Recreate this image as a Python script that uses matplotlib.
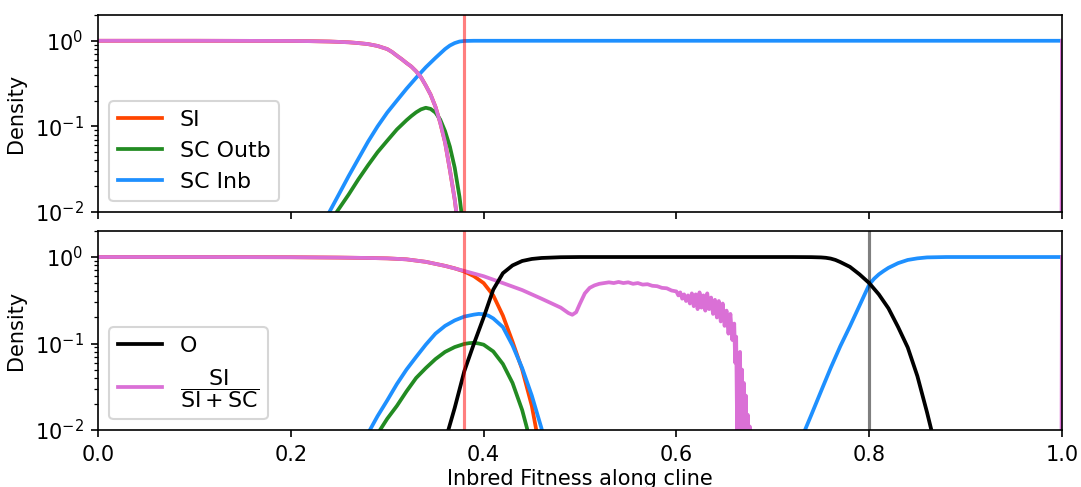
import numpy as np
import matplotlib
matplotlib.use("Agg")
import matplotlib.pyplot as plt

# ---------------- data ----------------
# Top panel
top_ratio_x = [0.0, 0.1, 0.2, 0.22, 0.24, 0.26, 0.27, 0.28, 0.29, 0.30, 0.305, 0.31, 0.315,
               0.32, 0.325, 0.33, 0.335, 0.34, 0.345, 0.35, 0.355, 0.36, 0.365, 0.37,
               0.375, 0.38, 0.999, 1.0]
top_ratio_y = [1.0, 1.0, 0.995, 0.99, 0.98, 0.96, 0.94, 0.915, 0.87, 0.80, 0.74, 0.67, 0.61,
               0.55, 0.50, 0.44, 0.375, 0.30, 0.235, 0.17, 0.11, 0.065, 0.031, 0.014,
               0.005, 1e-5, 1e-5, 1.0]
top_si_x = [0.0, 0.1, 0.2, 0.22, 0.24, 0.26, 0.27, 0.28, 0.29, 0.30, 0.305, 0.31, 0.315,
            0.32, 0.325, 0.33, 0.335, 0.34, 0.345, 0.35, 0.355, 0.36, 0.365, 0.37,
            0.375, 0.38]
top_si_y = [1.0, 1.0, 0.995, 0.99, 0.98, 0.96, 0.94, 0.915, 0.87, 0.80, 0.74, 0.67, 0.61,
            0.55, 0.50, 0.44, 0.375, 0.30, 0.235, 0.17, 0.11, 0.065, 0.031, 0.014,
            0.005, 1e-5]
top_outb_x = [0.24, 0.2476, 0.26, 0.27, 0.28, 0.29, 0.30, 0.31, 0.32, 0.325, 0.33, 0.335,
              0.34, 0.345, 0.35, 0.355, 0.36, 0.365, 0.37, 0.375, 0.378, 0.38]
top_outb_y = [0.006, 0.01, 0.016, 0.024, 0.035, 0.05, 0.068, 0.092, 0.118, 0.132, 0.146,
              0.158, 0.165, 0.16, 0.145, 0.12, 0.088, 0.058, 0.033, 0.015, 0.008, 0.003]
top_inb_x = [0.23, 0.24, 0.25, 0.26, 0.27, 0.28, 0.29, 0.30, 0.31, 0.32, 0.33, 0.34,
             0.35, 0.36, 0.365, 0.37, 0.375, 0.38, 0.39, 1.0]
top_inb_y = [0.006, 0.01, 0.0162, 0.0263, 0.0417, 0.066, 0.10, 0.145, 0.20, 0.275, 0.37,
             0.49, 0.63, 0.80, 0.88, 0.94, 0.98, 0.995, 1.0, 1.0]

# Bottom panel
bot_si_x = [0.0, 0.1, 0.2, 0.25, 0.28, 0.30, 0.32, 0.34, 0.36, 0.37, 0.38, 0.39, 0.40,
            0.41, 0.42, 0.43, 0.44, 0.45, 0.455, 0.46, 0.47]
bot_si_y = [1.0, 1.0, 0.995, 0.985, 0.975, 0.965, 0.94, 0.88, 0.79, 0.74, 0.68, 0.60, 0.50,
            0.36, 0.21, 0.105, 0.05, 0.019, 0.0095, 0.004, 0.001]
bot_outb_x = [0.285, 0.2925, 0.30, 0.31, 0.32, 0.33, 0.34, 0.35, 0.36, 0.37, 0.38, 0.385,
              0.39, 0.395, 0.40, 0.41, 0.42, 0.43, 0.44, 0.445, 0.45]
bot_outb_y = [0.006, 0.01, 0.0135, 0.019, 0.028, 0.04, 0.052, 0.066, 0.08, 0.091, 0.099,
              0.101, 0.102, 0.1, 0.097, 0.081, 0.058, 0.035, 0.017, 0.0105, 0.0055]
bot_inb_x = [0.275, 0.282, 0.29, 0.30, 0.31, 0.32, 0.33, 0.34, 0.35, 0.36, 0.37, 0.38,
             0.39, 0.395, 0.40, 0.405, 0.41, 0.42, 0.43, 0.44, 0.45, 0.46, 0.465, 0.47,
             0.72, 0.725, 0.7334, 0.74, 0.75, 0.76, 0.77, 0.78, 0.79, 0.80, 0.805, 0.81,
             0.815, 0.82, 0.83, 0.84, 0.85, 0.86, 0.88, 1.0]
bot_inb_y = [0.006, 0.01, 0.0145, 0.022, 0.034, 0.05, 0.07, 0.097, 0.13, 0.16, 0.185, 0.205,
             0.216, 0.22, 0.218, 0.21, 0.195, 0.155, 0.095, 0.052, 0.025, 0.0105, 0.006,
             1e-4, 1e-4, 0.005, 0.01, 0.015, 0.028, 0.052, 0.093, 0.158, 0.275, 0.48,
             0.56, 0.63, 0.69, 0.75, 0.85, 0.925, 0.965, 0.99, 1.0, 1.0]
bot_o_x = [0.355, 0.3634, 0.37, 0.38, 0.39, 0.40, 0.41, 0.42, 0.43, 0.44, 0.45, 0.46,
           0.48, 0.50, 0.72, 0.74, 0.75, 0.755, 0.76, 0.765, 0.77, 0.78, 0.79, 0.80,
           0.81, 0.82, 0.83, 0.84, 0.85, 0.86, 0.865, 0.87]
bot_o_y = [0.006, 0.01, 0.018, 0.048, 0.10, 0.20, 0.42, 0.65, 0.80, 0.90, 0.95, 0.975,
           0.995, 1.0, 1.0, 0.997, 0.99, 0.98, 0.96, 0.925, 0.875, 0.77, 0.63, 0.50,
           0.37, 0.255, 0.155, 0.09, 0.042, 0.016, 0.0095, 0.005]
bot_ratio_x = [0.0, 0.1, 0.2, 0.25, 0.28, 0.30, 0.32, 0.34, 0.36, 0.38, 0.40, 0.42, 0.44,
               0.46, 0.48, 0.488, 0.492, 0.496, 0.50, 0.505, 0.51, 0.515, 0.52, 0.525,
               0.53, 0.535, 0.54, 0.545, 0.55, 0.555, 0.56, 0.565, 0.57, 0.575, 0.58,
               0.585, 0.59, 0.595,
               0.600, 0.602, 0.604, 0.606, 0.608, 0.610, 0.612, 0.614, 0.616, 0.618,
               0.620, 0.622, 0.624, 0.626, 0.628, 0.630, 0.632, 0.634, 0.636, 0.638,
               0.640, 0.642, 0.644, 0.646, 0.648, 0.650, 0.652, 0.654, 0.656, 0.658,
               0.660, 0.661, 0.662, 0.663, 0.664, 0.665, 0.666, 0.667, 0.668, 0.669,
               0.670, 0.671, 0.672, 0.673, 0.674, 0.675, 0.676, 0.677,
               0.999, 1.0]
bot_ratio_y = [1.0, 1.0, 0.995, 0.985, 0.975, 0.965, 0.94, 0.88, 0.79, 0.69, 0.60, 0.50, 0.415,
               0.33, 0.26, 0.225, 0.215, 0.23, 0.29, 0.38, 0.44, 0.47, 0.49, 0.50,
               0.51, 0.50, 0.515, 0.50, 0.51, 0.49, 0.50, 0.48, 0.485, 0.465, 0.46,
               0.44, 0.435, 0.41,
               0.40, 0.36, 0.39, 0.33, 0.37, 0.31, 0.36, 0.29, 0.38, 0.27,
               0.37, 0.25, 0.39, 0.26, 0.36, 0.24, 0.38, 0.25, 0.34, 0.22,
               0.32, 0.20, 0.31, 0.18, 0.29, 0.16, 0.24, 0.13, 0.22, 0.11,
               0.17, 0.06, 0.12, 0.01, 0.07, 0.004, 0.08, 0.006, 0.05, 0.003,
               0.035, 0.004, 0.025, 0.002, 0.015, 0.002, 0.011, 0.001,
               1e-5, 1.0]

# ---------------- figure ----------------
plt.rcParams['font.size'] = 10
fig = plt.figure(figsize=(1081 / 150, 487 / 150), dpi=150)
ax1 = fig.add_axes([0.0907, 0.5647, 0.8917, 0.4045])
ax2 = fig.add_axes([0.0907, 0.117, 0.8917, 0.4087], sharex=ax1)

c_si = 'orangered'
c_outb = 'forestgreen'
c_inb = 'dodgerblue'
c_ratio = 'orchid'
LW = 1.8
LEG_FS = 10.6

# top
l_si, = ax1.plot(top_si_x, top_si_y, color=c_si, lw=LW, label='SI')
l_outb, = ax1.plot(top_outb_x, top_outb_y, color=c_outb, lw=LW, label='SC Outb')
l_inb, = ax1.plot(top_inb_x, top_inb_y, color=c_inb, lw=LW, label='SC Inb')
ax1.plot(top_ratio_x, top_ratio_y, color=c_ratio, lw=LW)
ax1.axvline(0.38, color='red', alpha=0.5, lw=1.5)
ax1.set_yscale('log')
ax1.set_ylim(1e-2, 2)
ax1.set_xlim(0, 1)
ax1.set_ylabel('Density')
ax1.legend(handles=[l_si, l_outb, l_inb], loc='lower left', fontsize=LEG_FS)
plt.setp(ax1.get_xticklabels(), visible=False)

# bottom
ax2.plot(bot_si_x, bot_si_y, color=c_si, lw=LW)
ax2.plot(bot_outb_x, bot_outb_y, color=c_outb, lw=LW)
ax2.plot(bot_inb_x, bot_inb_y, color=c_inb, lw=LW)
l_ratio, = ax2.plot(bot_ratio_x, bot_ratio_y, color=c_ratio, lw=LW,
                    label=r'$\dfrac{\mathrm{SI}}{\mathrm{SI+SC}}$')
l_o, = ax2.plot(bot_o_x, bot_o_y, color='black', lw=LW, label='O')
ax2.axvline(0.38, color='red', alpha=0.5, lw=1.5)
ax2.axvline(0.8, color='black', alpha=0.5, lw=1.5)
ax2.set_yscale('log')
ax2.set_ylim(1e-2, 2)
ax2.set_xlim(0, 1)
ax2.set_ylabel('Density')
ax2.set_xlabel('Inbred Fitness along cline', labelpad=2)
ax2.legend(handles=[l_o, l_ratio], loc='lower left', fontsize=LEG_FS)

fig.savefig('out.png', dpi=150)
